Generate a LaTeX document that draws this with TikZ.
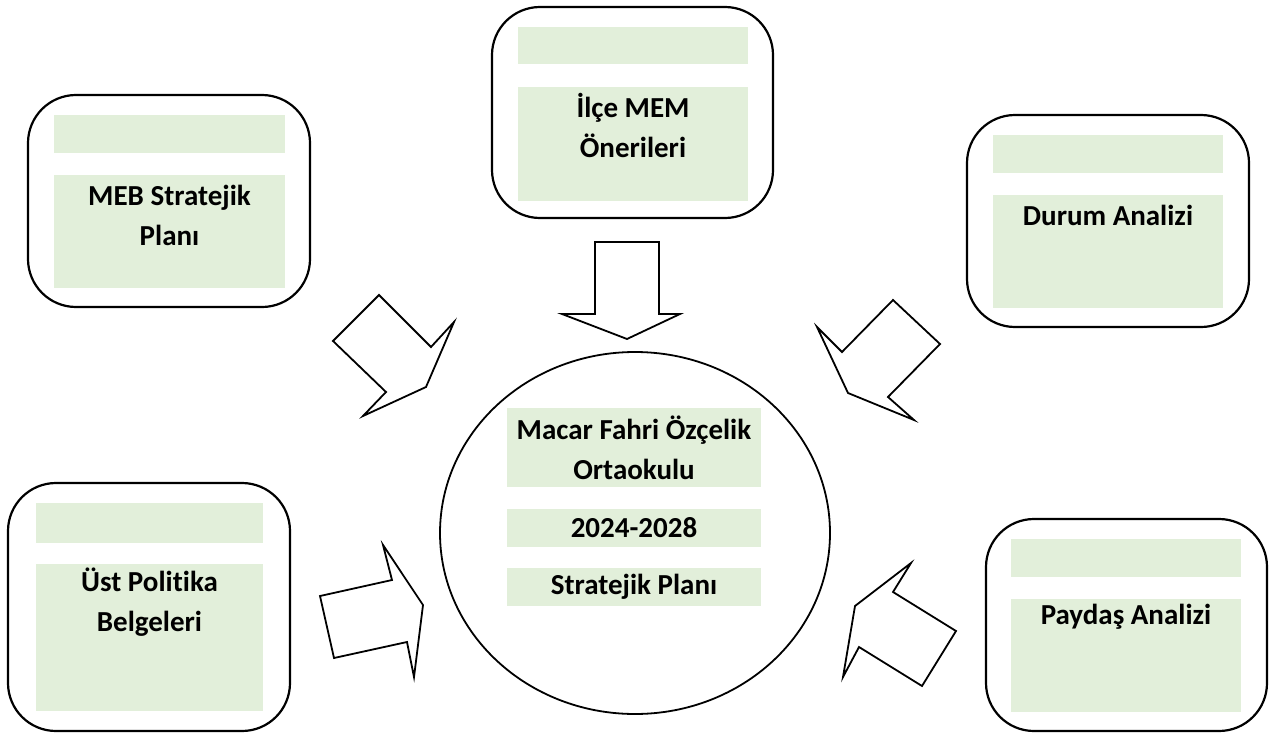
\documentclass[tikz,border=0pt]{standalone}
\usepackage{fontspec}
\setmainfont{Carlito}[RawFeature=-liga]
\usetikzlibrary{shapes.geometric}
\definecolor{lgreen}{HTML}{E2EFDA}
\tikzset{
  outerbox/.style={draw=black, line width=2.2pt, rounded corners=48pt, fill=white},
  gbox/.style={fill=lgreen},
  lbl/.style={font=\fontsize{29}{40}\selectfont\bfseries, align=center, text=black},
  arr/.style={draw=black, line width=1.8pt, fill=white, line join=miter},
}
\begin{document}
\begin{tikzpicture}[x=1pt,y=-1pt]
\useasboundingbox (0,0) rectangle (1273,733);
% box 1 MEB
\draw[outerbox] (28,95) rectangle (310,307);
\fill[gbox] (54,115) rectangle (285,153);
\fill[gbox] (54,175) rectangle (285,288);
\node[lbl] (meb) at (169.5,215) {MEB Stratejik\\Planı};
% box 2 Ilce
\draw[outerbox] (492,7) rectangle (773,218);
\fill[gbox] (518,27) rectangle (748,64);
\fill[gbox] (518,87) rectangle (748,201);
\node[lbl] (ilce) at (633,125) {İlçe MEM\\Önerileri};
% box 3 Durum
\draw[outerbox] (967,115) rectangle (1249,327);
\fill[gbox] (993,135) rectangle (1223,173);
\fill[gbox] (993,195) rectangle (1223,308);
\node[lbl] (durum) at (1108,215) {Durum Analizi};
% box 4 Ust
\draw[outerbox] (8,483) rectangle (290,731);
\fill[gbox] (36,503) rectangle (263,543);
\fill[gbox] (36,564) rectangle (263,711);
\node[lbl] (ust) at (149.5,602) {Üst Politika\\Belgeleri};
% box 5 Paydas
\draw[outerbox] (986,519) rectangle (1267,731);
\fill[gbox] (1011,539) rectangle (1241,577);
\fill[gbox] (1011,599) rectangle (1241,712);
\node[lbl] (paydas) at (1126,617) {Paydaş Analizi};
% center ellipse
\node[draw=black, line width=1.8pt, ellipse, minimum width=390pt, minimum height=362pt] (center) at (635,533) {};
\fill[gbox] (507,408) rectangle (761,487);
\fill[gbox] (507,509) rectangle (761,547);
\fill[gbox] (507,568) rectangle (761,606);
\node[lbl] (school) at (634,447.5) {Macar Fahri Özçelik\\Ortaokulu};
\node[lbl] (years) at (634,528) {2024-2028};
\node[lbl] (plan) at (634,587) {Stratejik Planı};
% arrows
\draw[arr] (333,341) -- (379,295) -- (431,347) -- (454,322) -- (426,387) -- (363,416) -- (386,392) -- cycle;
\draw[arr] (893,300) -- (940,344) -- (888,397) -- (914,420) -- (848,393) -- (817,327) -- (842,352) -- cycle;
\draw[arr] (320,596) -- (392,580) -- (383,545) -- (423,605) -- (414,677) -- (407,642) -- (334,658) -- cycle;
\draw[arr] (893,592) -- (956,631) -- (922,686) -- (859,647) -- (843,677) -- (855,606) -- (911,563) -- cycle;
\draw[arr] (595,242) -- (659,242) -- (659,314) -- (680,314) -- (627,339) -- (562,314) -- (595,314) -- cycle;
\end{tikzpicture}
\end{document}
